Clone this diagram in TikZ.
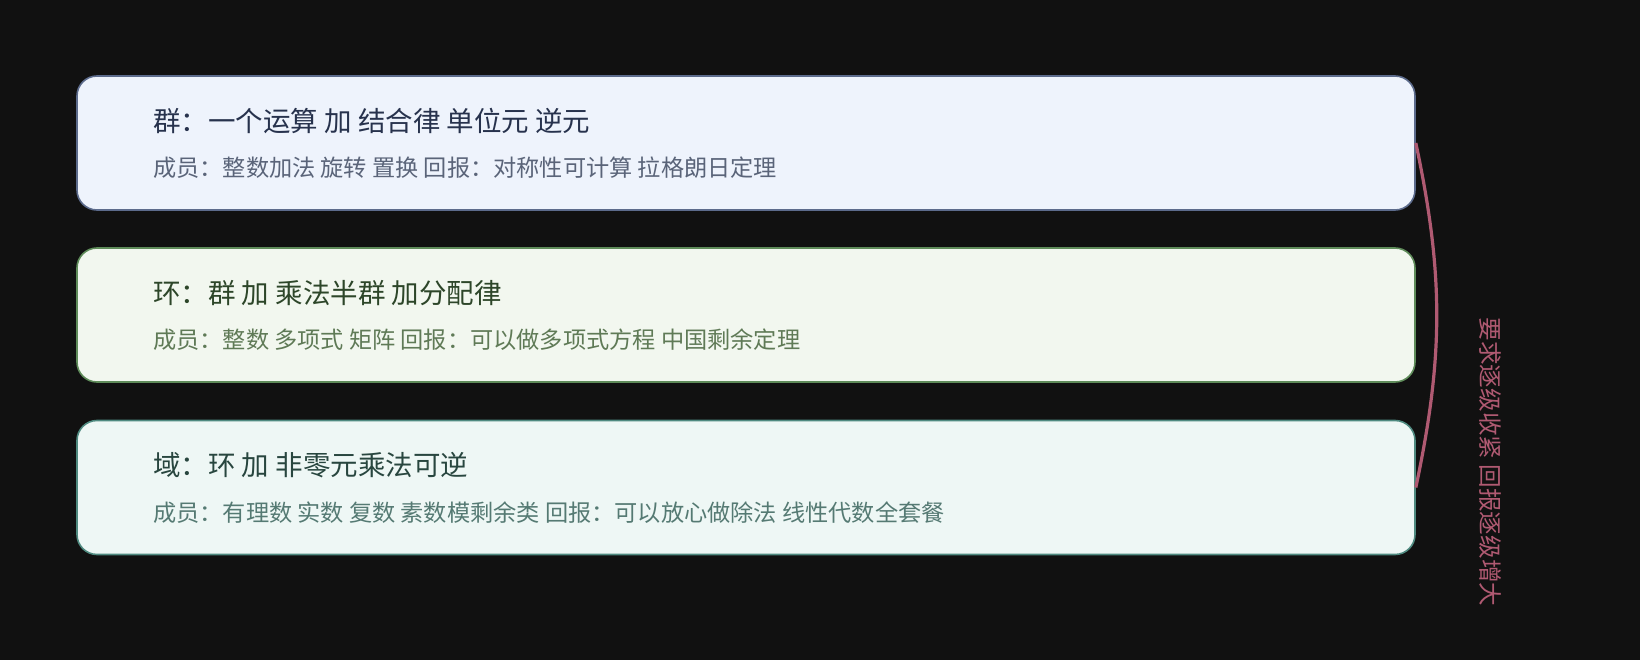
\documentclass[tikz,border=0pt]{standalone}
\usepackage{fontspec}
\setmainfont{Noto Sans CJK SC}
\usepackage{tikz}
\usetikzlibrary{positioning}
\definecolor{bgdark}{HTML}{111111}
\definecolor{groupfill}{HTML}{EEF3FC}
\definecolor{groupline}{HTML}{5C6B8C}
\definecolor{grouptitle}{HTML}{27324D}
\definecolor{grouptext}{HTML}{5A6479}
\definecolor{ringfill}{HTML}{F2F7EF}
\definecolor{ringline}{HTML}{5F8C5A}
\definecolor{ringtitle}{HTML}{2D4629}
\definecolor{ringtext}{HTML}{5F7A56}
\definecolor{fieldfill}{HTML}{EEF7F5}
\definecolor{fieldline}{HTML}{4F8A80}
\definecolor{fieldtitle}{HTML}{28463F}
\definecolor{fieldtext}{HTML}{557A73}
\definecolor{bracecol}{HTML}{B05A72}
\tikzset{
    levelbox/.style = {rectangle, rounded corners = 20pt, line width = 1.6pt, minimum width = 1338pt, minimum height = 134pt, inner sep = 0pt},
    titletext/.style = {anchor = west, inner sep = 0pt, font = \fontsize{27.5}{32}\selectfont},
    subtext/.style = {anchor = west, inner sep = 0pt, font = \fontsize{23.2}{28}\selectfont}
}
\begin{document}
\begin{tikzpicture}[x = 1pt, y = -1pt]
        \fill [bgdark] (0, 0) rectangle (1640, 660);
        \useasboundingbox (0, 0) rectangle (1640, 660);

        \node (group) [levelbox, fill = groupfill, draw = groupline] at (746, 143) {};
        \node (ring) [levelbox, fill = ringfill, draw = ringline] at (746, 315) {};
        \node (field) [levelbox, fill = fieldfill, draw = fieldline] at (746, 487.5) {};

        \node (grouptitle) [titletext, text = grouptitle] at (153, 121) {群：一个运算 加 结合律 单位元 逆元};
        \node (groupsub) [subtext, text = grouptext] at (153, 168) {成员：整数加法 旋转 置换 回报：对称性可计算 拉格朗日定理};

        \node (ringtitle) [titletext, text = ringtitle] at (153, 293) {环：群 加 乘法半群 加分配律};
        \node (ringsub) [subtext, text = ringtext] at (153, 340) {成员：整数 多项式 矩阵 回报：可以做多项式方程 中国剩余定理};

        \node (fieldtitle) [titletext, text = fieldtitle] at (153, 465.5) {域：环 加 非零元乘法可逆};
        \node (fieldsub) [subtext, text = fieldtext] at (153, 512.5) {成员：有理数 实数 复数 素数模剩余类 回报：可以放心做除法 线性代数全套餐};

        \draw [bracecol, line width = 3.2pt] (group.east) to[bend left = 12] (field.east);

        \node (trend) [rotate = -90, text = bracecol, inner sep = 0pt, font = \fontsize{23.6}{28}\selectfont] at (1490, 462) {要求逐级收紧 回报逐级增大};
    \end{tikzpicture}
\end{document}
